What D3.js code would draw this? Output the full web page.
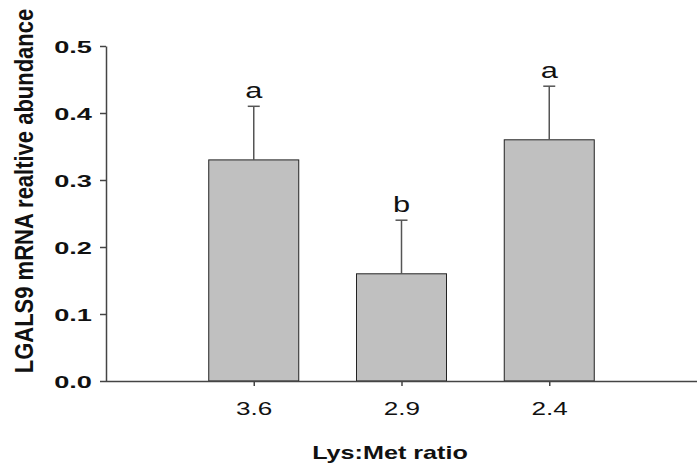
<!DOCTYPE html>
<html>
<head>
<meta charset="utf-8">
<script src="https://cdn.jsdelivr.net/npm/d3@7"></script>
<style>
  body { margin: 0; background: #fff; }
  svg { display: block; font-family: Arial, "Liberation Sans", sans-serif; }
</style>
</head>
<body>
<svg width="697" height="464"></svg>
<script>
const categories = ['3.6', '2.9', '2.4']
const means = [0.33, 0.16, 0.36]
const errors = [0.08, 0.08, 0.08]
const letters = ['a', 'b', 'a']
const yTicks = [0, 0.1, 0.2, 0.3, 0.4, 0.5]

const LEFT = 106, RIGHT = 697, TOP = 46, BOTTOM = 381
const BAR_W = 90, CAP_W = 12

const svg = d3.select('svg')

const x = d3.scalePoint()
  .domain(categories)
  .range([LEFT, RIGHT])
  .padding(1)
const y = d3.scaleLinear()
  .domain([0, 0.5])
  .range([BOTTOM, TOP])

const data = categories.map((c, i) => ({ c, m: means[i], e: errors[i], l: letters[i] }))

// bars
svg.append('g').selectAll('rect')
  .data(data)
  .join('rect')
  .attr('x', d => x(d.c) - BAR_W / 2)
  .attr('y', d => y(d.m))
  .attr('width', BAR_W)
  .attr('height', d => y(0) - y(d.m))
  .attr('fill', '#c0c0c0')
  .attr('stroke', '#222')
  .attr('stroke-width', 1)

// error bars (upper only)
const err = svg.append('g').attr('stroke', '#555').attr('stroke-width', 1.5)
err.selectAll('line.v')
  .data(data)
  .join('line')
  .attr('class', 'v')
  .attr('x1', d => x(d.c)).attr('x2', d => x(d.c))
  .attr('y1', d => y(d.m)).attr('y2', d => y(d.m + d.e))
err.selectAll('line.cap')
  .data(data)
  .join('line')
  .attr('class', 'cap')
  .attr('x1', d => x(d.c) - CAP_W / 2).attr('x2', d => x(d.c) + CAP_W / 2)
  .attr('y1', d => y(d.m + d.e)).attr('y2', d => y(d.m + d.e))

// significance letters
svg.append('g').selectAll('text')
  .data(data)
  .join('text')
  .attr('transform', d => `translate(${x(d.c)},${y(d.m + d.e) - 8}) scale(1.4,1)`)
  .attr('text-anchor', 'middle')
  .attr('font-size', 22)
  .attr('fill', '#111')
  .text(d => d.l)

// y axis
const yAxis = svg.append('g')
  .attr('transform', `translate(${LEFT},0)`)
  .call(d3.axisLeft(y).tickValues(yTicks).tickFormat(d3.format('.1f')).tickSize(6).tickSizeOuter(0))
yAxis.selectAll('path, line').attr('stroke', '#444').attr('stroke-width', 1.5)
yAxis.selectAll('text')
  .attr('x', -14 / 1.6)
  .attr('dy', '0.36em')
  .attr('transform', 'scale(1.6,1)')
  .attr('font-size', 17)
  .attr('font-weight', 'bold')
  .attr('fill', '#111')

// x axis
const xAxis = svg.append('g')
  .attr('transform', `translate(0,${BOTTOM})`)
  .call(d3.axisBottom(x).tickSize(5).tickSizeOuter(0))
xAxis.select('.domain').attr('d', `M${LEFT},0.5H${RIGHT}`)
xAxis.selectAll('path, line').attr('stroke', '#444').attr('stroke-width', 1.5)
xAxis.selectAll('text')
  .attr('y', 34)
  .attr('dy', 0)
  .attr('transform', 'scale(1.45,1)')
  .attr('font-size', 18)
  .attr('fill', '#111')

// axis titles
svg.append('text')
  .attr('transform', `translate(390,459) scale(1.4,1)`)
  .attr('text-anchor', 'middle')
  .attr('font-size', 18)
  .attr('font-weight', 'bold')
  .attr('fill', '#111')
  .text('Lys:Met ratio')

svg.append('text')
  .attr('transform', `translate(33,191) rotate(-90) scale(1,1.2)`)
  .attr('text-anchor', 'middle')
  .attr('font-size', 22)
  .attr('font-weight', 'bold')
  .attr('fill', '#111')
  .text('LGALS9 mRNA realtive abundance')
</script>
</body>
</html>
